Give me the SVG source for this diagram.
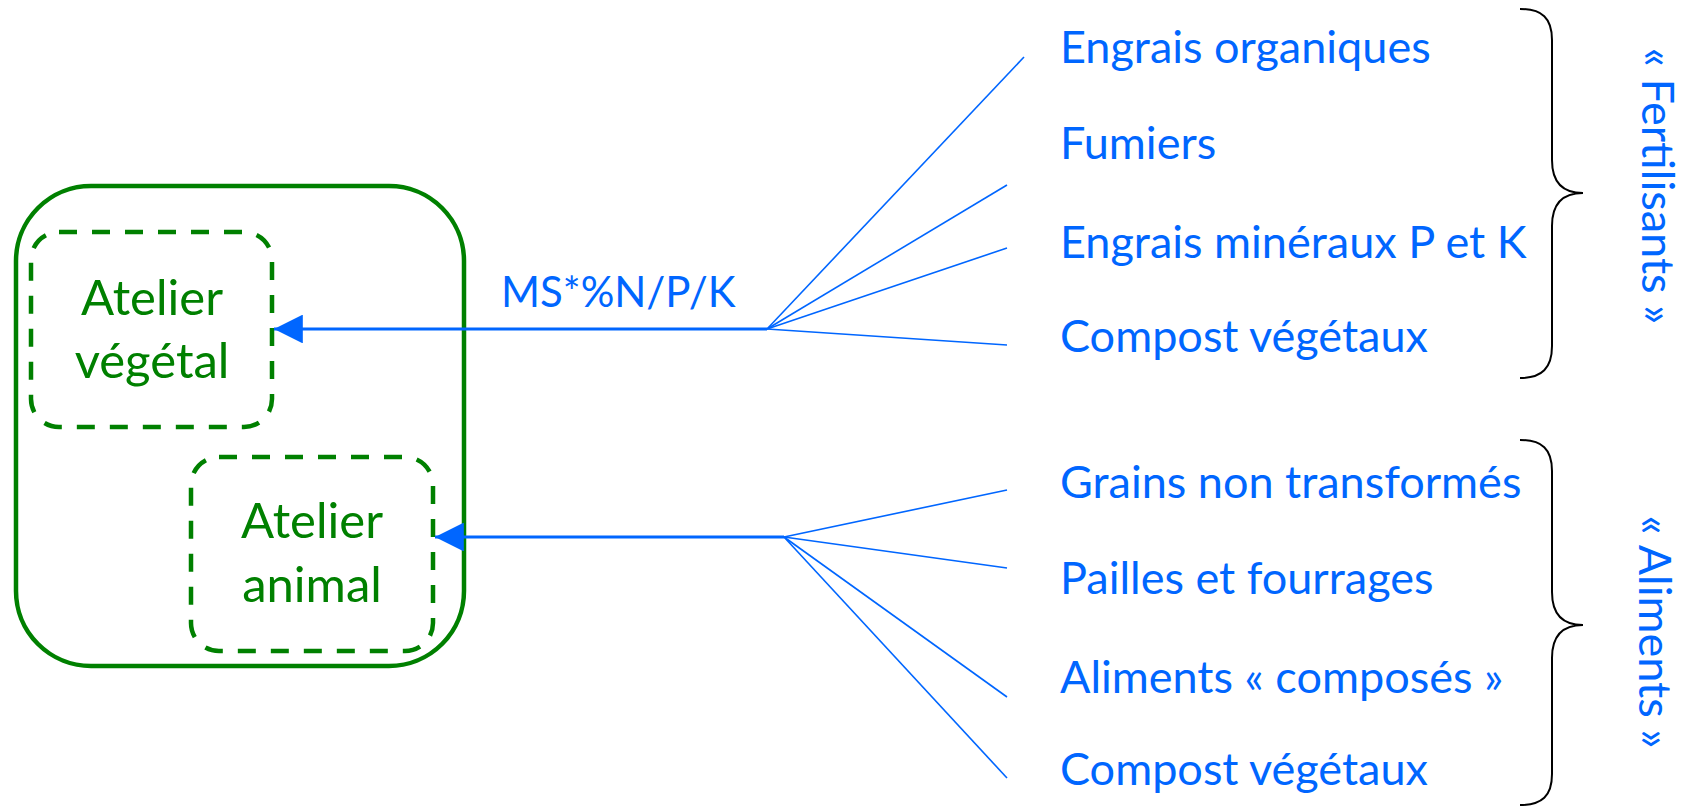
<svg xmlns="http://www.w3.org/2000/svg" width="1683" height="807" viewBox="0 0 1683 807">
<defs>
<style>
.g{fill:none;stroke:#008000;stroke-width:4.5}
.d{stroke-dasharray:18 15}
.gt{fill:#008000;font-family:Lato,"Noto Sans",sans-serif;font-size:49px;text-anchor:middle}
.bt{fill:#0066FF;font-family:Lato,"Noto Sans",sans-serif;font-size:45px}
.ms{font-size:42px}
.ln{stroke:#0066FF;stroke-width:1.6;fill:none}
.ar{stroke:#0066FF;stroke-width:3.2;fill:none}
.br{stroke:#000;stroke-width:2;fill:none}
</style>
<marker id="ah" markerWidth="9" markerHeight="9" refX="8.2" refY="4.1" orient="auto" markerUnits="strokeWidth" viewBox="0 0 8.2 8.2">
<path d="M0,0 L8.2,4.1 L0,8.2 Z" fill="#0066FF"/>
</marker>
</defs>
<g id="ferme">
<rect class="g" x="16" y="186" width="448" height="480" rx="75"/>
</g>
<g id="atelier-vegetal">
<rect class="g d" x="31" y="232" width="241" height="195" rx="28"/>
<text class="gt" x="152" y="315">Atelier</text>
<text class="gt" x="152" y="378">végétal</text>
</g>
<g id="atelier-animal">
<rect class="g d" x="191" y="457" width="242" height="194" rx="28"/>
<text class="gt" x="312" y="538">Atelier</text>
<text class="gt" x="312" y="602">animal</text>
</g>
<g id="connectors">
<line class="ar" x1="767" y1="329" x2="274" y2="329" marker-end="url(#ah)"/>
<line class="ar" x1="784" y1="537" x2="435" y2="537" marker-end="url(#ah)"/>
<line class="ln" x1="767" y1="329" x2="1024" y2="57"/>
<line class="ln" x1="767" y1="329" x2="1007" y2="185"/>
<line class="ln" x1="767" y1="329" x2="1007" y2="248"/>
<line class="ln" x1="767" y1="329" x2="1007" y2="345"/>
<line class="ln" x1="784" y1="537" x2="1007" y2="490"/>
<line class="ln" x1="784" y1="537" x2="1007" y2="568"/>
<line class="ln" x1="784" y1="537" x2="1007" y2="697"/>
<line class="ln" x1="784" y1="537" x2="1007" y2="778"/>
</g>
<g id="label-ms">
<text class="bt ms" x="501" y="307">MS*%N/P/K</text>
</g>
<g id="fertilisants">
<text class="bt" x="1060" y="63">Engrais organiques</text>
<text class="bt" x="1060" y="159">Fumiers</text>
<text class="bt" x="1060" y="258">Engrais minéraux P et K</text>
<text class="bt" x="1060" y="352">Compost végétaux</text>
<path class="br" d="M1520,9 C1542,9 1552,18 1552,40 L1552,160 C1552,182 1562,193 1583,193 C1562,193 1552,204 1552,226 L1552,346 C1552,368 1542,378 1520,378"/>
<text class="bt" transform="translate(1642,186) rotate(90)" text-anchor="middle">« Fertilisants »</text>
</g>
<g id="aliments">
<text class="bt" x="1060" y="498">Grains non transformés</text>
<text class="bt" x="1060" y="594">Pailles et fourrages</text>
<text class="bt" x="1060" y="693">Aliments « composés »</text>
<text class="bt" x="1060" y="785">Compost végétaux</text>
<path class="br" d="M1520,440 C1542,440 1552,449 1552,471 L1552,592 C1552,614 1562,625 1583,625 C1562,625 1552,636 1552,658 L1552,774 C1552,796 1542,805 1520,805"/>
<text class="bt" transform="translate(1639,632) rotate(90)" text-anchor="middle">« Aliments »</text>
</g>
</svg>
